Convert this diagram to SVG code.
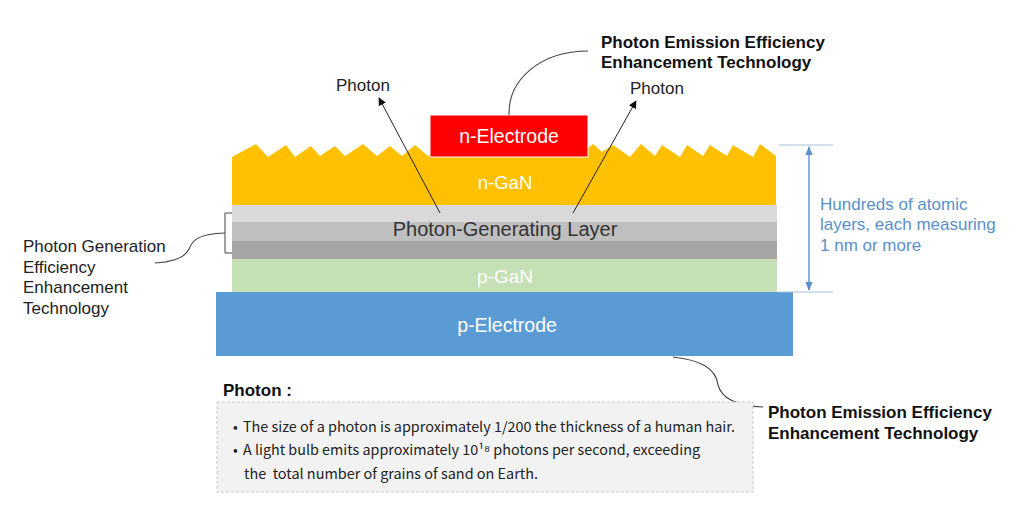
<svg xmlns="http://www.w3.org/2000/svg" width="1024" height="512" viewBox="0 0 1024 512">
<defs>
<style>
.s{font-family:"Liberation Sans",Arial,sans-serif}
.w{fill:#fff}
.lbl{fill:#222;font-size:17px}
.b{font-weight:bold;fill:#111;font-size:17px}
.blue{fill:#5B8FCB;font-size:17px}
.note{font-family:"Noto Sans CJK KR","Liberation Sans",sans-serif;font-size:14px;fill:#222;white-space:pre}
.lead{fill:none;stroke:#444;stroke-width:1.1}
</style>
<marker id="ah" viewBox="0 0 10 10" refX="9" refY="5" markerWidth="8" markerHeight="8" orient="auto-start-reverse" markerUnits="userSpaceOnUse">
<path d="M0,0 L10,5 L0,10 z" fill="#111"/>
</marker>
<marker id="bh" viewBox="0 0 10 10" refX="9" refY="5" markerWidth="9" markerHeight="9" orient="auto-start-reverse" markerUnits="userSpaceOnUse">
<path d="M0,1 L10,5 L0,9 z" fill="#5B8FCB"/>
</marker>
</defs>
<rect width="1024" height="512" fill="#fff"/>

<g id="p-electrode">
<rect x="216" y="292" width="577" height="64" fill="#5B9BD5"/>
<text class="s w" x="507" y="332" font-size="19.5" text-anchor="middle">p-Electrode</text>
</g>
<g id="p-gan">
<rect x="232" y="259" width="545" height="33" fill="#C5E0B4"/>
<text class="s w" x="505" y="283" font-size="19" text-anchor="middle">p-GaN</text>
</g>
<g id="photon-generating-layer">
<rect x="232" y="205" width="545" height="17" fill="#D9D9D9"/>
<rect x="232" y="222" width="545" height="19" fill="#BFBFBF"/>
<rect x="232" y="241" width="545" height="18" fill="#A6A6A6"/>
<text class="s" x="505" y="236" font-size="20" fill="#333" text-anchor="middle">Photon-Generating Layer</text>
</g>
<g id="n-gan">
<path fill="#FFC000" d="M232,157 L256,144 L268,157 L286,145 L295,157 L311,146 L320,156 L335,146 L345,156 L363,144 L377,156 L390,146 L402,156 L415,145 L428,156 L440,145 L452,156 L465,145 L478,156 L490,145 L503,156 L515,145 L528,156 L540,145 L553,156 L565,145 L578,156 L593,144 L602,152 L613,145 L630,157 L641,144 L655,156 L662,145 L680,157 L687,145 L703,156 L710,145 L727,156 L733,145 L753,157 L760,144 L776,156 L776,205 L232,205 Z"/>
<text class="s w" x="505" y="189" font-size="18.5" text-anchor="middle">n-GaN</text>
</g>
<g id="n-electrode">
<rect x="430" y="115" width="158" height="42" fill="#FF0000" stroke="#fff" stroke-width="1"/>
<text class="s w" x="509" y="143" font-size="19.5" text-anchor="middle">n-Electrode</text>
</g>

<g id="connectors">
<line x1="440" y1="213" x2="379" y2="98" stroke="#222" stroke-width="1" marker-end="url(#ah)"/>
<line x1="573" y1="213" x2="636" y2="101" stroke="#222" stroke-width="1" marker-end="url(#ah)"/>
<path class="lead" d="M509,115 C508,80 540,51 588,51"/>
<path class="lead" d="M673,357 C700,360 716,368 718,385 C722,400 740,406 763,407"/>
<path fill="none" stroke="#444" stroke-width="1" d="M232,213 L225,213 L225,253 L232,253"/>
<path class="lead" d="M225,233 C195,234 192,242 189,249 C185,258 170,262 155,263"/>
<line x1="779" y1="145" x2="833" y2="145" stroke="#A8BEDC" stroke-width="1.2"/>
<line x1="779" y1="292" x2="833" y2="292" stroke="#A8BEDC" stroke-width="1.2"/>
<line x1="809" y1="147" x2="809" y2="290" stroke="#5B8FCB" stroke-width="1.4" marker-start="url(#bh)" marker-end="url(#bh)"/>
</g>

<g id="labels">
<text class="s lbl" x="336" y="91">Photon</text>
<text class="s lbl" x="630" y="94">Photon</text>
<text class="s b" x="601" y="48">Photon Emission Efficiency</text>
<text class="s b" x="601" y="68">Enhancement Technology</text>
<text class="s b" x="768" y="418">Photon Emission Efficiency</text>
<text class="s b" x="768" y="439">Enhancement Technology</text>
<text class="s lbl" x="23" y="252">Photon Generation</text>
<text class="s lbl" x="23" y="273">Efficiency</text>
<text class="s lbl" x="23" y="293">Enhancement</text>
<text class="s lbl" x="23" y="314">Technology</text>
<text class="s blue" x="820" y="210">Hundreds of atomic</text>
<text class="s blue" x="820" y="230">layers, each measuring</text>
<text class="s blue" x="820" y="251">1 nm or more</text>
</g>

<g id="photon-note">
<text class="s" x="223" y="396" font-size="17" font-weight="bold" fill="#111">Photon :</text>
<rect x="217" y="402" width="536" height="90" fill="#F2F2F2" stroke="#C8C8C8" stroke-width="1" stroke-dasharray="3,2"/>
<text class="note" x="233" y="432">•</text>
<text class="note" x="243" y="432" textLength="492" lengthAdjust="spacingAndGlyphs">The size of a photon is approximately 1/200 the thickness of a human hair.</text>
<text class="note" x="233" y="455">•</text>
<text class="note" x="243" y="455" textLength="457" lengthAdjust="spacingAndGlyphs">A light bulb emits approximately 10¹⁸ photons per second, exceeding</text>
<text class="note" x="244" y="479" textLength="294" lengthAdjust="spacingAndGlyphs">the  total number of grains of sand on Earth.</text>
</g>
</svg>
